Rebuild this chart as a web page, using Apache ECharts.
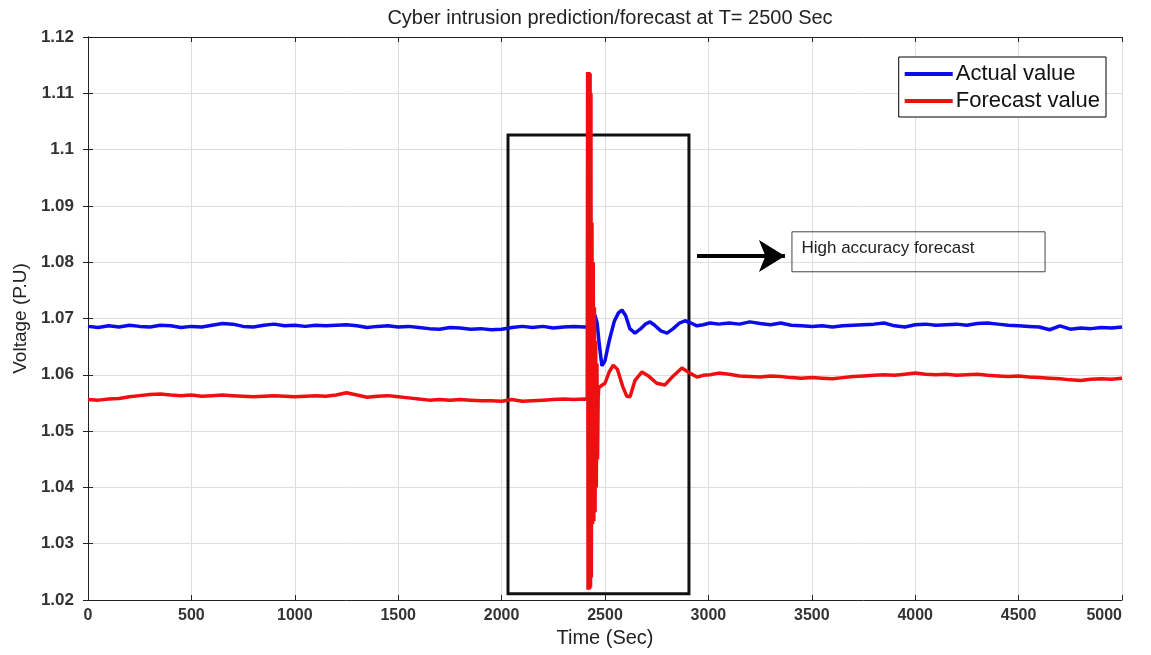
<!DOCTYPE html>
<html>
<head>
<meta charset="utf-8">
<script src="https://cdn.jsdelivr.net/npm/echarts@6/dist/echarts.min.js"></script>
<style>html,body{margin:0;padding:0;background:#fff}#c{width:1151px;height:655px}</style>
</head>
<body>
<div id="c"></div>
<script>
// ---- data ----
var xTicks = [0, 500, 1000, 1500, 2000, 2500, 3000, 3500, 4000, 4500, 5000];
var yTicks = [1.02, 1.03, 1.04, 1.05, 1.06, 1.07, 1.08, 1.09, 1.1, 1.11, 1.12];

// steady segments sampled every 50 s
var preStart = 0, preStep = 50;      // 0 .. 2400
var postStart = 3050, postStep = 50; // 3050 .. 5000

var actualPre = [1.0686,1.0684,1.0687,1.0685,1.0688,1.0686,1.0685,1.0688,1.0687,1.0684,
  1.0686,1.0685,1.0688,1.0691,1.0690,1.0686,1.0685,1.0688,1.0690,1.0687,
  1.0688,1.0686,1.0688,1.0687,1.0688,1.0689,1.0687,1.0684,1.0686,1.0687,
  1.0685,1.0686,1.0684,1.0682,1.0681,1.0684,1.0683,1.0681,1.0682,1.0680,
  1.0681,1.0684,1.0686,1.0684,1.0686,1.0683,1.0685,1.0686,1.0685];
var actualTransT = [2416,2428,2440,2452,2462,2472,2485,2500,2520,2545,2565,2582,2600,2620,2645,2670,2695,2718,2740,2770,2800,2830,2860,2887,2915,2945,2975,3008];
var actualTransV = [1.0685,1.0690,1.0712,1.0705,1.0692,1.0655,1.0616,1.0625,1.0660,1.0695,1.0710,1.0715,1.0705,1.0682,1.0674,1.0681,1.0690,1.0694,1.0688,1.0678,1.0674,1.0682,1.0692,1.0696,1.0692,1.0687,1.0689,1.0692];
var actualPost = [1.0690,1.0692,1.0690,1.0694,1.0691,1.0689,1.0692,1.0688,1.0687,1.0686,
  1.0687,1.0685,1.0687,1.0688,1.0689,1.0690,1.0692,1.0687,1.0685,1.0689,
  1.0690,1.0688,1.0689,1.0690,1.0688,1.0691,1.0692,1.0690,1.0688,1.0687,
  1.0686,1.0685,1.0680,1.0687,1.0681,1.0683,1.0682,1.0684,1.0683,1.0685];

var forecastPre = [1.0556,1.0555,1.0557,1.0558,1.0561,1.0563,1.0565,1.0566,1.0564,1.0563,
  1.0564,1.0562,1.0563,1.0564,1.0563,1.0562,1.0561,1.0562,1.0563,1.0562,
  1.0561,1.0562,1.0563,1.0562,1.0564,1.0568,1.0564,1.0560,1.0562,1.0563,
  1.0561,1.0559,1.0557,1.0555,1.0556,1.0555,1.0556,1.0555,1.0554,1.0554,
  1.0553,1.0556,1.0553,1.0554,1.0555,1.0556,1.0557,1.0556,1.0557];
var forecastTransT = [2414,2416,2418,2420,2422,2424,2426,2428,2430,2432,2434,2437,2440,2443,2446,2449,2452,2455,2458,2461,2464,2467,2470,2480,2500,2520,2540,2560,2585,2605,2621,2645,2679,2710,2750,2790,2830,2872,2910,2945,2975,3008];
var forecastTransV = [1.0556,1.1138,1.0218,1.1138,1.0218,1.1137,1.0220,1.1135,1.0222,1.1100,1.0240,1.0870,1.0335,1.0800,1.0340,1.0720,1.0356,1.0660,1.0400,1.0620,1.0450,1.0560,1.0577,1.0580,1.0585,1.0605,1.0617,1.0610,1.0580,1.0562,1.0561,1.0590,1.0605,1.0598,1.0585,1.0582,1.0598,1.0612,1.0603,1.0596,1.0599,1.0600];
var forecastPost = [1.0603,1.0601,1.0598,1.0597,1.0596,1.0598,1.0597,1.0595,1.0594,1.0595,
  1.0594,1.0593,1.0595,1.0597,1.0598,1.0599,1.0600,1.0599,1.0601,1.0603,
  1.0601,1.0600,1.0601,1.0599,1.0600,1.0601,1.0599,1.0598,1.0597,1.0598,
  1.0596,1.0595,1.0594,1.0593,1.0591,1.0590,1.0592,1.0593,1.0592,1.0594];

// annotations (data coordinates)
var boxCorners = [[2031, 1.1026], [2906, 1.0211]];
var arrowPts = [[2945, 1.0811], [3370, 1.0811]];
var noteCorners = [[3404, 1.0854], [4628, 1.0783]];
var noteText = 'High accuracy forecast';

// ---- build series points ----
function build(pre, tT, tV, post) {
  var out = [], i;
  for (i = 0; i < pre.length; i++) out.push([preStart + i * preStep, pre[i]]);
  for (i = 0; i < tT.length; i++) out.push([tT[i], tV[i]]);
  for (i = 0; i < post.length; i++) out.push([postStart + i * postStep, post[i]]);
  return out;
}
var actual = build(actualPre, actualTransT, actualTransV, actualPost);
var forecast = build(forecastPre, forecastTransT, forecastTransV, forecastPost);

var FONT = 'Liberation Sans, Arial, sans-serif';
var chart = echarts.init(document.getElementById('c'), null, {renderer: 'canvas'});

function fmtY(v) { return String(parseFloat(v.toFixed(2))); }

var option = {
  backgroundColor: '#ffffff',
  animation: false,
  title: {
    text: 'Cyber intrusion prediction/forecast at T= 2500 Sec',
    left: 605, top: 3, textAlign: 'center',
    textStyle: {fontFamily: FONT, fontSize: 20, fontWeight: 'normal', color: '#222'}
  },
  legend: {
    right: 45, top: 57, orient: 'vertical',
    backgroundColor: '#fff', borderColor: '#000', borderWidth: 1, borderRadius: 0,
    padding: [6, 6, 5, 6], itemGap: 5,
    itemWidth: 48, itemHeight: 4, icon: 'rect',
    textStyle: {fontFamily: FONT, fontSize: 22, color: '#111', padding: [0, 0, 0, -2]},
    data: ['Actual value', 'Forecast value']
  },
  grid: {left: 88, right: 29, top: 37, bottom: 55, show: false},
  xAxis: [{
    type: 'value', min: 0, max: 5000, interval: 500, position: 'bottom',
    name: 'Time (Sec)', nameLocation: 'middle', nameGap: 27,
    nameTextStyle: {fontFamily: FONT, fontSize: 20, color: '#222'},
    axisLine: {show: true, lineStyle: {color: '#222', width: 1}},
    axisTick: {show: true, inside: true, length: 5, lineStyle: {color: '#222'}},
    axisLabel: {fontFamily: FONT, fontSize: 16, fontWeight: 'bold', color: '#333', margin: 8,
      alignMaxLabel: 'right',
      formatter: function (v) { return xTicks.indexOf(v) >= 0 ? String(v) : ''; }},
    splitLine: {show: true, lineStyle: {color: '#dedede', width: 1}}
  }, {
    type: 'value', min: 0, max: 5000, interval: 500, position: 'top',
    axisLine: {show: true, lineStyle: {color: '#222', width: 1}},
    axisTick: {show: true, inside: true, length: 5, lineStyle: {color: '#222'}},
    axisLabel: {show: false}, splitLine: {show: false}
  }],
  yAxis: [{
    type: 'value', min: 1.02, max: 1.12, interval: 0.01, position: 'left',
    name: 'Voltage (P.U)', nameLocation: 'middle', nameGap: 58, nameRotate: 90,
    nameTextStyle: {fontFamily: FONT, fontSize: 19, color: '#222'},
    axisLine: {show: true, lineStyle: {color: '#222', width: 1}},
    axisTick: {show: true, inside: true, length: 5, lineStyle: {color: '#222'}},
    axisLabel: {fontFamily: FONT, fontSize: 17, fontWeight: 'bold', color: '#333', margin: 14,
      formatter: fmtY},
    splitLine: {show: true, lineStyle: {color: '#dedede', width: 1}}
  }, {
    type: 'value', min: 1.02, max: 1.12, interval: 0.01, position: 'right',
    axisLine: {show: true, lineStyle: {color: '#222', width: 1}},
    axisTick: {show: true, inside: true, length: 5, lineStyle: {color: '#222'}},
    axisLabel: {show: false}, splitLine: {show: false}
  }],
  series: [{
    name: 'Actual value', type: 'line', data: actual, showSymbol: false, symbol: 'none',
    lineStyle: {color: '#0b0bec', width: 3.5}, itemStyle: {color: '#0b0bec'}, z: 3
  }, {
    name: 'Forecast value', type: 'line', data: forecast, showSymbol: false, symbol: 'none',
    lineStyle: {color: '#ee1010', width: 3.5}, itemStyle: {color: '#ee1010'}, z: 4
  }, {
    name: 'annotations', type: 'line', data: [], silent: true, z: 5,
    markArea: {
      silent: true,
      data: [
        [{coord: boxCorners[0], itemStyle: {color: 'rgba(0,0,0,0)', borderColor: '#111', borderWidth: 3}},
         {coord: boxCorners[1]}],
        [{coord: noteCorners[0], itemStyle: {color: 'rgba(255,255,255,0)', borderColor: '#444', borderWidth: 1},
          label: {show: true, position: 'insideLeft', formatter: noteText, distance: 10,
            fontFamily: FONT, fontSize: 17, color: '#222', offset: [0, -3]}},
         {coord: noteCorners[1]}]
      ]
    },
    markLine: {
      silent: true, symbol: ['none', 'arrow'], symbolSize: [24, 26],
      label: {show: false},
      lineStyle: {color: '#000', width: 4, type: 'solid'},
      data: [[{coord: arrowPts[0]}, {coord: arrowPts[1]}]]
    }
  }]
};
chart.setOption(option);
</script>
</body>
</html>
